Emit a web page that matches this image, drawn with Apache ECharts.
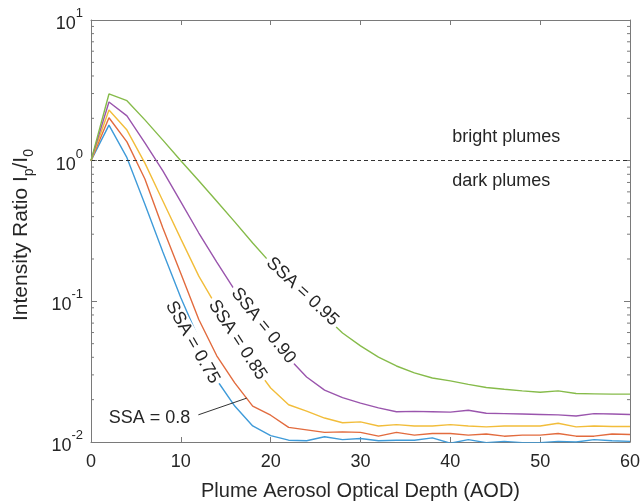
<!DOCTYPE html>
<html>
<head>
<meta charset="utf-8">
<script src="https://cdn.jsdelivr.net/npm/echarts@6/dist/echarts.min.js"></script>
<style>
html,body{margin:0;padding:0;background:#ffffff;}
#chart{width:644px;height:503px;}
</style>
</head>
<body>
<div id="chart"></div>
<script>
// ---------------- data ----------------
const aod = [0,2,4,6,8,10,12,14,16,18,20,22,24,26,28,30,32,34,36,38,40,42,44,46,48,50,52,54,56,58,60];

const ssa075 = [1.0,1.79,1.05,0.49,0.224,0.106,0.054,0.0276,0.018,0.013,0.0111,0.0103,0.0102,0.0109,0.0104,0.0106,0.0102,0.0103,0.0103,0.0107,0.0098,0.0104,0.0099,0.0101,0.0099,0.0099,0.0101,0.0100,0.0104,0.0102,0.0101];
const ssa080 = [1.0,2.02,1.36,0.741,0.332,0.158,0.0743,0.041,0.0263,0.018,0.0155,0.0127,0.0122,0.0117,0.0118,0.0117,0.0110,0.0117,0.0112,0.0115,0.0115,0.0112,0.0114,0.0110,0.0112,0.0112,0.0115,0.0110,0.0110,0.0114,0.0113];
const ssa085 = [1.0,2.29,1.65,0.96,0.517,0.278,0.151,0.0912,0.0568,0.0359,0.0242,0.0184,0.0166,0.0148,0.0137,0.0139,0.0130,0.0133,0.0130,0.0130,0.0133,0.0130,0.0128,0.0130,0.0130,0.0130,0.0136,0.0128,0.0130,0.0129,0.0129];
const ssa090 = [1.0,2.61,2.08,1.34,0.845,0.509,0.306,0.19,0.12,0.0787,0.055,0.0396,0.029,0.0234,0.0207,0.0189,0.0175,0.0164,0.0165,0.0164,0.0163,0.0168,0.0160,0.0159,0.0158,0.0157,0.0156,0.0153,0.0159,0.0158,0.0157];
const ssa095 = [1.0,2.98,2.67,1.95,1.40,1.0,0.72,0.514,0.367,0.26,0.187,0.137,0.102,0.0787,0.0596,0.0482,0.0401,0.0347,0.031,0.0285,0.0272,0.0257,0.0244,0.0237,0.0231,0.0226,0.0231,0.0221,0.0220,0.0219,0.0219];

const seriesNames = ['SSA = 0.75','SSA = 0.8','SSA = 0.85','SSA = 0.90','SSA = 0.95'];
const seriesValues = [ssa075, ssa080, ssa085, ssa090, ssa095];

const xTickInterval = 10;
const xMin = 0, xMax = 60;
const yMin = 0.01, yMax = 10;
const yMinorTicks = [0.02,0.03,0.04,0.05,0.06,0.07,0.08,0.09,
                     0.2,0.3,0.4,0.5,0.6,0.7,0.8,0.9,
                     2,3,4,5,6,7,8,9];
const thresholdValue = 1;

// annotation texts (anchors in data space)
const lineLabels = [
  {text:'SSA = 0.95', x:23.54, y:0.1172, rot:-43},
  {text:'SSA = 0.90', x:19.18, y:0.0671, rot:-51},
  {text:'SSA = 0.85', x:16.31, y:0.0532, rot:-56.6},
  {text:'SSA = 0.75', x:11.3,  y:0.0511, rot:-60.3},
  {text:'SSA = 0.8',  x:6.51,  y:0.0149, rot:0}
];
const leader = {from:[11.95,0.0156], to:[17.33,0.0205]};
const regionTexts = [
  {text:'bright plumes', x:40.2, y:1.474},
  {text:'dark plumes',   x:40.2, y:0.717}
];

// ---------------- style ----------------
const FONT = 'Liberation Sans, Arial, Helvetica, sans-serif';
const TXT = '#262626';
const AX = '#7a7a7a';
const colors = ['#3f9bd9','#e26b3e','#f2bd3a','#9a55ad','#86bb4a'];

const chart = echarts.init(document.getElementById('chart'), null, {renderer:'canvas'});

const series = seriesNames.map((n, k) => ({
  name: n,
  type: 'line',
  xAxisIndex: 0, yAxisIndex: 0,
  data: aod.map((x, i) => [x, seriesValues[k][i]]),
  showSymbol: false,
  symbol: 'none',
  clip: true,
  lineStyle: {color: colors[k], width: 1.4},
  itemStyle: {color: colors[k]},
  z: 3 + k,
  animation: false
}));

series[0].markLine = {
  silent: true,
  symbol: ['none','none'],
  label: {show:false},
  lineStyle: {type:[4,3], color:'#333333', width:1.1},
  data: [{yAxis: thresholdValue}],
  animation: false
};

series.push({
  type: 'custom',
  xAxisIndex: 0, yAxisIndex: 0,
  silent: true,
  data: yMinorTicks.map(v => [xMin, v]),
  renderItem: function(params, api) {
    const v = api.value(1);
    const pl = api.coord([xMin, v]);
    const pr = api.coord([xMax, v]);
    const st = {stroke: AX, lineWidth: 1};
    return {
      type: 'group',
      children: [
        {type:'line', shape:{x1:pl[0], y1:pl[1], x2:pl[0]+3, y2:pl[1]}, style: st},
        {type:'line', shape:{x1:pr[0]-3, y1:pr[1], x2:pr[0], y2:pr[1]}, style: st}
      ]
    };
  },
  z: 1,
  animation: false
});

const option = {
  backgroundColor: '#ffffff',
  animation: false,
  textStyle: {fontFamily: FONT},
  grid: {left: 91, right: 14, top: 20, bottom: 61, containLabel: false, outerBoundsMode: 'none'},
  xAxis: [
    {
      type: 'value', position: 'bottom', min: xMin, max: xMax, interval: xTickInterval,
      name: 'Plume Aerosol Optical Depth (AOD)',
      nameLocation: 'middle', nameGap: 39,
      nameTextStyle: {fontSize: 20, color: TXT, fontFamily: FONT},
      axisLine: {show: true, onZero: false, lineStyle: {color: AX, width: 1}},
      axisTick: {show: true, inside: true, length: 5, lineStyle: {color: AX}},
      axisLabel: {fontSize: 18, color: TXT, margin: 11, fontFamily: FONT},
      splitLine: {show: false}
    },
    {
      type: 'value', position: 'top', min: xMin, max: xMax, interval: xTickInterval,
      axisLine: {show: true, onZero: false, lineStyle: {color: AX, width: 1}},
      axisTick: {show: true, inside: true, length: 5, lineStyle: {color: AX}},
      axisLabel: {show: false},
      splitLine: {show: false}
    }
  ],
  yAxis: [
    {
      type: 'log', logBase: 10, position: 'left', min: yMin, max: yMax,
      name: '{a|Intensity Ratio I}{s|p}{a|/I}{s|0}',
      nameLocation: 'middle', nameGap: 55, nameRotate: 90,
      nameTextStyle: {
        color: TXT, fontFamily: FONT, padding: [0, 8, 0, 0],
        rich: {
          a: {fontSize: 21, color: TXT, fontFamily: FONT},
          s: {fontSize: 14, color: TXT, fontFamily: FONT, padding: [16,0,0,0]}
        }
      },
      axisLine: {show: true, onZero: false, lineStyle: {color: AX, width: 1}},
      axisTick: {show: true, inside: true, length: 6, lineStyle: {color: AX}},
      axisLabel: {
        margin: 8, color: TXT, fontFamily: FONT,
        formatter: function(v) {
          const e = Math.round(Math.log10(v));
          return '{b|10}{s|' + e + '}';
        },
        rich: {
          b: {fontSize: 18, color: TXT, fontFamily: FONT, padding: [8,0,0,0]},
          s: {fontSize: 13, color: TXT, fontFamily: FONT, padding: [0,0,13,0]}
        }
      },
      splitLine: {show: false}
    },
    {
      type: 'log', logBase: 10, position: 'right', min: yMin, max: yMax,
      axisLine: {show: true, onZero: false, lineStyle: {color: AX, width: 1}},
      axisTick: {show: true, inside: true, length: 6, lineStyle: {color: AX}},
      axisLabel: {show: false},
      splitLine: {show: false}
    }
  ],
  series: series
};

chart.setOption(option);

// annotations placed through the axes' own scales
const toPx = p => chart.convertToPixel({xAxisIndex: 0, yAxisIndex: 0}, p);
const graphics = [];
lineLabels.forEach(l => {
  const p = toPx([l.x, l.y]);
  graphics.push({
    type: 'text', x: p[0], y: p[1], rotation: l.rot * Math.PI / 180, z: 100,
    style: {
      text: l.text, fontSize: 18, fontFamily: FONT, fill: TXT,
      align: 'center', verticalAlign: 'middle',
      backgroundColor: '#ffffff', padding: [0, 3, 0, 3]
    }
  });
});
const a = toPx(leader.from), b = toPx(leader.to);
graphics.push({
  type: 'line', z: 100,
  shape: {x1: a[0], y1: a[1], x2: b[0], y2: b[1]},
  style: {stroke: '#333333', lineWidth: 1}
});
regionTexts.forEach(t => {
  const p = toPx([t.x, t.y]);
  graphics.push({
    type: 'text', x: p[0], y: p[1], z: 100,
    style: {text: t.text, fontSize: 18, fontFamily: FONT, fill: TXT, align: 'left', verticalAlign: 'middle'}
  });
});
chart.setOption({graphic: graphics});
</script>
</body>
</html>
